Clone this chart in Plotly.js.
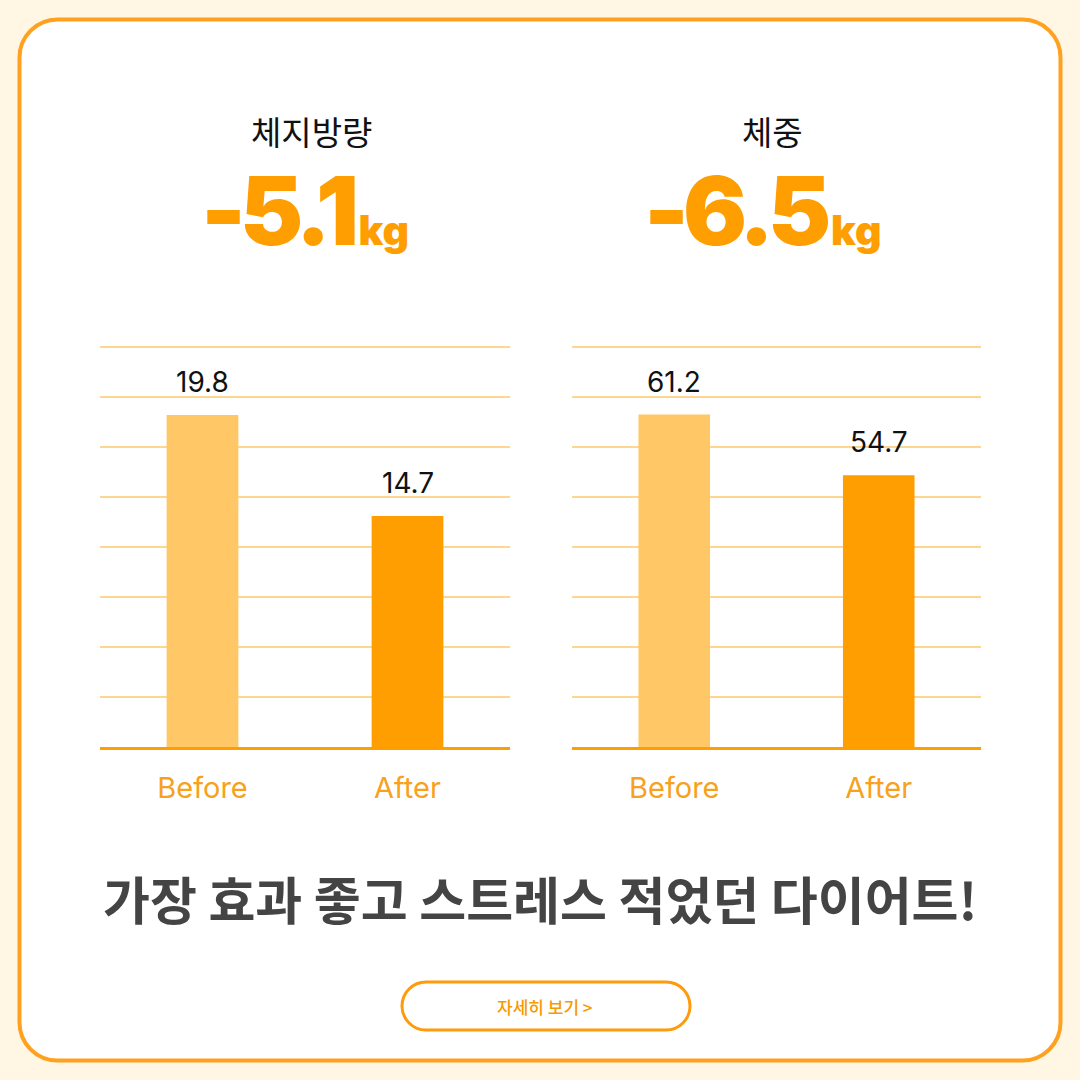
<!DOCTYPE html>
<html>
<head>
<meta charset="utf-8">
<script src="https://cdn.plot.ly/plotly-3.0.1.min.js"></script>
<style>
  html, body { margin: 0; padding: 0; background: #FFF6E3; }
  #chart { width: 1080px; height: 1080px; }
</style>
</head>
<body>
<div id="chart"></div>
<script>
// ---- data ----
const categories = ["Before", "After"];
const bodyFat = [19.8, 14.7];
const bodyWeight = [61.2, 54.7];
const chartTitles = ["체지방량", "체중"];
const unit = "kg";
const headline = "가장 효과 좋고 스트레스 적었던 다이어트!";
const buttonLabel = "자세히 보기 >";

// ---- style / layout helpers ----
const W = 1080, H = 1080;
const ORANGE = "#FF9E00";
const LIGHT = "#FFC766";
const GRID = "#FDD792";
const px = x => x / W;
const py = y => 1 - y / H;

function roundRect(x0, y0, x1, y1, r) {
  const k = 0.5523 * r;
  const P = (x, y) => px(x) + "," + py(y);
  return "M" + P(x0 + r, y0) +
    " L" + P(x1 - r, y0) +
    " C" + P(x1 - r + k, y0) + " " + P(x1, y0 + r - k) + " " + P(x1, y0 + r) +
    " L" + P(x1, y1 - r) +
    " C" + P(x1, y1 - r + k) + " " + P(x1 - r + k, y1) + " " + P(x1 - r, y1) +
    " L" + P(x0 + r, y1) +
    " C" + P(x0 + r - k, y1) + " " + P(x0, y1 - r + k) + " " + P(x0, y1 - r) +
    " L" + P(x0, y0 + r) +
    " C" + P(x0, y0 + r - k) + " " + P(x0 + r - k, y0) + " " + P(x0 + r, y0) + " Z";
}

// plot area: baseline at 747px, top gridline at 347px (+4px headroom so it is drawn)
const PAD = 4;
const yDomain = [py(747), py(347 - PAD)];
const baseRanges = [[3.03, 23.23], [25.61, 68.44]];
function withPad(r) { return [r[0], r[1] + PAD * (r[1] - r[0]) / 400]; }
function gridVals(r) {
  const out = [];
  for (let i = 0; i <= 8; i++) out.push(r[0] + (r[1] - r[0]) * i / 8);
  return out;
}

const NUMFONT = "Inter, Roboto, 'Noto Sans', sans-serif";
const KFONT = "'Noto Sans CJK KR', 'Noto Sans', sans-serif";

function barTrace(vals, xa, ya) {
  return {
    type: "bar", x: categories, y: vals, xaxis: xa, yaxis: ya,
    marker: { color: [LIGHT, ORANGE], line: { width: 0 } },
    width: 0.35, hoverinfo: "skip", showlegend: false
  };
}

const data = [barTrace(bodyFat, "x", "y"), barTrace(bodyWeight, "x2", "y2")];

function xAxis(domain, anchor) {
  return {
    domain: domain, anchor: anchor, type: "category",
    showgrid: false, zeroline: false,
    showline: true, linecolor: ORANGE, linewidth: 3,
    ticks: "", ticklabelstandoff: 13,
    tickfont: { family: NUMFONT, size: 29, color: "#F7A11C" },
    fixedrange: true
  };
}
function yAxis(r, anchor) {
  return {
    domain: yDomain, anchor: anchor, range: withPad(r),
    tickmode: "array", tickvals: gridVals(r), showticklabels: false,
    showgrid: true, gridcolor: GRID, gridwidth: 2,
    zeroline: false, showline: false, ticks: "", fixedrange: true
  };
}

const series = [bodyFat, bodyWeight];
const centers = [(99 + 509) / 2 + 8, (572 + 981) / 2 - 4];
const numCenters = [305, 762];
const annotations = [];
series.forEach((vals, s) => {
  const xr = s === 0 ? "x" : "x2", yr = s === 0 ? "y" : "y2";
  vals.forEach((v, i) => {
    annotations.push({
      xref: xr, yref: yr, x: categories[i], y: v,
      text: v.toFixed(1), showarrow: false, xanchor: "center", yanchor: "bottom", yshift: 14,
      font: { family: NUMFONT, size: 28, color: "#111111" }
    });
  });
  annotations.push({
    xref: "paper", yref: "paper", x: px(centers[s]), y: py(131),
    text: chartTitles[s], showarrow: false, xanchor: "center", yanchor: "middle",
    font: { family: KFONT, size: 33, color: "#111111", weight: 400 }
  });
  const diff = (vals[1] - vals[0]).toFixed(1);
  annotations.push({
    xref: "paper", yref: "paper", x: px(numCenters[s]), y: py(270),
    text: '<span style="letter-spacing:-6px">' + diff + '</span><span style="font-size:41px;letter-spacing:0px">\u2009' + unit + '</span>',
    showarrow: false, xanchor: "center", yanchor: "bottom",
    font: { family: NUMFONT, size: 95, color: ORANGE, weight: 900 }
  });
});
annotations.push({
  xref: "paper", yref: "paper", x: 0.5, y: py(898),
  text: headline, showarrow: false, xanchor: "center", yanchor: "middle",
  font: { family: KFONT, size: 51, color: "#444444", weight: 700 }
});
annotations.push({
  xref: "paper", yref: "paper", x: px(545), y: py(1006),
  text: buttonLabel, showarrow: false, xanchor: "center", yanchor: "middle",
  font: { family: KFONT, size: 17, color: "#F59A00", weight: 500 }
});

const layout = {
  width: W, height: H,
  margin: { l: 0, r: 0, t: 0, b: 0 },
  paper_bgcolor: "#FFF6E3",
  plot_bgcolor: "rgba(0,0,0,0)",
  showlegend: false,
  bargap: 0.65,
  xaxis: xAxis([px(100), px(510)], "y"),
  yaxis: yAxis(baseRanges[0], "x"),
  xaxis2: xAxis([px(572), px(981)], "y2"),
  yaxis2: yAxis(baseRanges[1], "x2"),
  shapes: [
    { type: "path", xref: "paper", yref: "paper", layer: "below",
      path: roundRect(19.5, 19.5, 1060.5, 1060.5, 38),
      fillcolor: "#FFFFFF", line: { color: "#FFA01E", width: 4 } },
    { type: "path", xref: "paper", yref: "paper", layer: "below",
      path: roundRect(402, 982, 690, 1030, 24),
      fillcolor: "#FFFFFF", line: { color: "#FF9A0A", width: 3 } }
  ],
  annotations: annotations
};

Plotly.newPlot("chart", data, layout, { staticPlot: true, displayModeBar: false });
</script>
</body>
</html>
